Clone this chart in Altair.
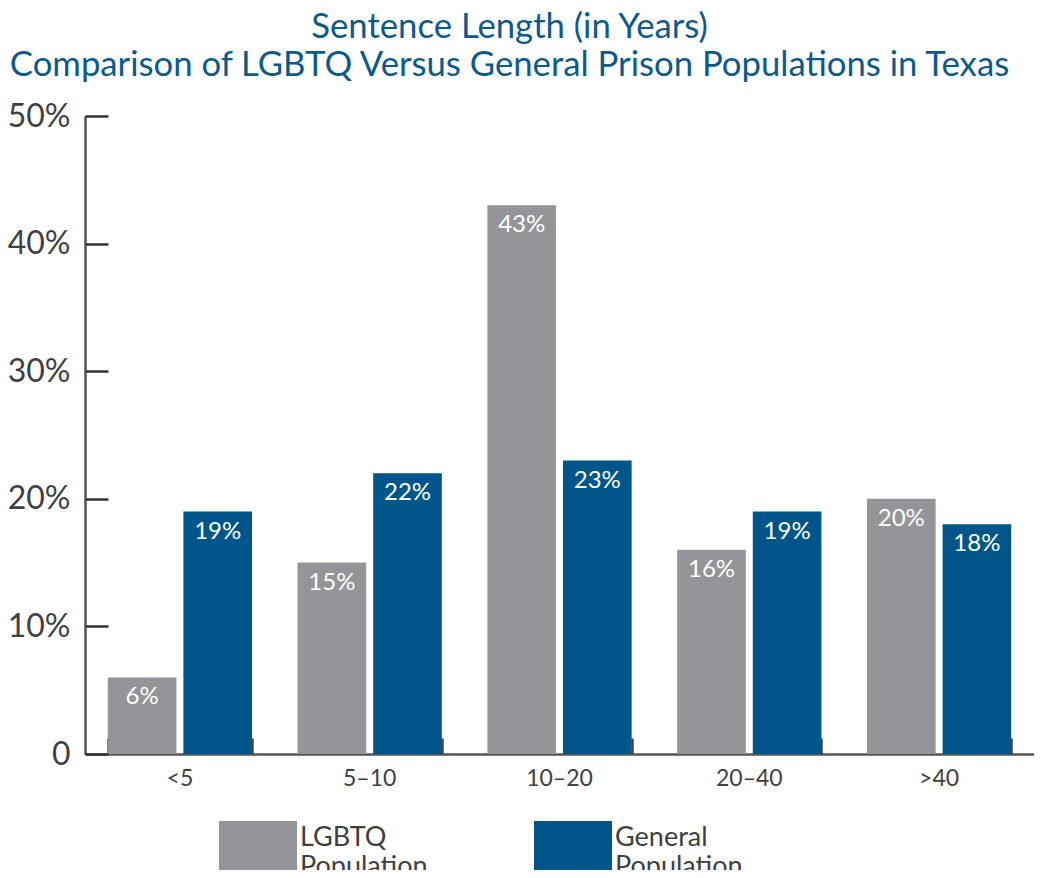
import altair as alt
import pandas as pd

categories = ["<5", "5–10", "10–20", "20–40", ">40"]
series = ["LGBTQ Population", "General Population"]
lgbtq = [6, 15, 43, 16, 20]
general = [19, 22, 23, 19, 18]
y_ticks = [0, 10, 20, 30, 40, 50]

GRAY = "#939598"
BLUE = "#00568a"
TITLE = "#0b5a8b"
TEXT = "#404040"
FONT = "Lato"

rows = []
for c, a, b in zip(categories, lgbtq, general):
    rows.append({"cat": c, "series": series[0], "value": a})
    rows.append({"cat": c, "series": series[1], "value": b})
df = pd.DataFrame(rows)

W, H = 949, 638

x_scale = alt.Scale(domain=categories, paddingInner=0.24, paddingOuter=0.12)
off_scale = alt.Scale(domain=series, paddingInner=0.092, paddingOuter=0)
y_scale = alt.Scale(domain=[0, 50], nice=False)

base = alt.Chart(df)

bars = base.mark_bar().encode(
    x=alt.X("cat:N", sort=categories, scale=x_scale, title=None,
            axis=alt.Axis(labelFont=FONT, labelFontSize=23, labelColor=TEXT,
                          labelPadding=13, ticks=False, domainColor="#555555",
                          domainWidth=2.5, labelAngle=0)),
    xOffset=alt.XOffset("series:N", sort=series, scale=off_scale),
    y=alt.Y("value:Q", scale=y_scale, title=None,
            axis=alt.Axis(values=y_ticks, grid=False, ticks=False,
                          labelExpr="datum.value == 0 ? '0' : datum.value + '%'",
                          labelFont=FONT, labelFontSize=32, labelColor=TEXT,
                          labelPadding=15, domainColor="#555555", domainWidth=2.5)),
    color=alt.Color("series:N", sort=series,
                    scale=alt.Scale(domain=series, range=[GRAY, BLUE]),
                    legend=alt.Legend(orient="none", legendX=148, legendY=705,
                                      direction="horizontal", columns=2,
                                      columnPadding=106, title=None,
                                      symbolType="M-1.56,-1H1.56V1H-1.56Z",
                                      symbolSize=2500, symbolStrokeWidth=0,
                                      symbolOpacity=1, labelFont=FONT,
                                      labelFontSize=27, labelColor=TEXT,
                                      labelOffset=17, labelLimit=300,
                                      labelBaseline="alphabetic",
                                      labelExpr="split(datum.label, ' ')")),
)

labels = base.transform_calculate(lab="datum.value + '%'").mark_text(
    baseline="top", dy=8, color="white", fontSize=24, font=FONT
).encode(
    x=alt.X("cat:N", sort=categories, scale=x_scale, title=None,
            axis=alt.Axis(orient="top", offset=-H, tickBand="extent", labels=False,
                          domain=False, tickSize=16, tickWidth=2.5,
                          tickColor="#444444")),
    xOffset=alt.XOffset("series:N", sort=series, scale=off_scale),
    y=alt.Y("value:Q", scale=y_scale, title=None,
            axis=alt.Axis(orient="right", offset=-W, values=y_ticks, labels=False,
                          domain=False, grid=False, tickSize=23, tickWidth=2.5,
                          tickColor="#333333")),
    text="lab:N",
)

chart = alt.layer(bars, labels).resolve_axis(x="independent", y="independent").properties(
    width=W, height=H,
    autosize=alt.AutoSizeParams(type="none"),
    padding={"left": 77, "top": 108, "right": 0, "bottom": 116},
    title=alt.TitleParams(
        text=["Sentence Length (in Years)",
              "Comparison of LGBTQ Versus General Prison Populations in Texas"],
        font=FONT, fontSize=34.7, fontWeight="normal", color=TITLE,
        anchor="middle", dx=-50, lineHeight=38, offset=16,
    ),
).configure_view(stroke=None)

chart.save("out.html", embed_options={"renderer": "svg", "actions": False})
